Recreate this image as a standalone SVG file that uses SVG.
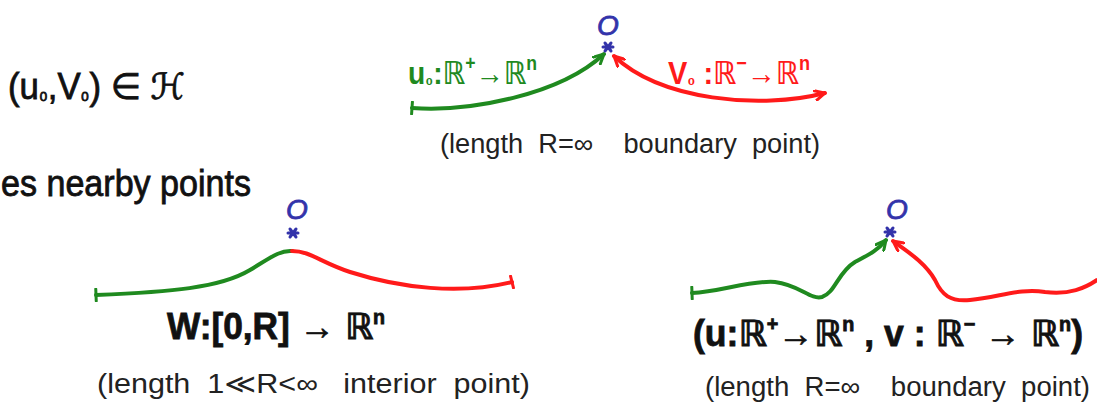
<svg xmlns="http://www.w3.org/2000/svg" width="1097" height="406" viewBox="0 0 1097 406">
<style>
text{white-space:pre;}
.hand{font-family:"Liberation Sans","DejaVu Sans",sans-serif;}
.big{font-size:36px;fill:#111;stroke:#111;stroke-width:0.8;}
.bold{font-weight:bold;}
.cap{font-size:27px;fill:#222;}
.g{stroke:#1f8a1f;}
.r{stroke:#ff1a1a;}
.curve{fill:none;stroke-width:4;stroke-linecap:round;stroke-linejoin:round;}
.o{font-family:"Liberation Sans",sans-serif;font-style:italic;font-size:28px;fill:#3333aa;stroke:#3333aa;stroke-width:0.8;}
.star{stroke:#3333aa;stroke-width:3;stroke-linecap:round;}
</style>
<defs>
<marker id="ag" viewBox="0 0 12 12" refX="11" refY="6" markerWidth="12" markerHeight="12" markerUnits="userSpaceOnUse" orient="auto-start-reverse"><path d="M1,1 L11,6 L1,11" fill="none" stroke="#1f8a1f" stroke-width="3" stroke-linecap="round"/></marker>
<marker id="ar" viewBox="0 0 12 12" refX="11" refY="6" markerWidth="12" markerHeight="12" markerUnits="userSpaceOnUse" orient="auto-start-reverse"><path d="M1,1 L11,6 L1,11" fill="none" stroke="#ff1a1a" stroke-width="3" stroke-linecap="round"/></marker>
<marker id="tg" viewBox="0 0 4 14" refX="2" refY="7" markerWidth="4" markerHeight="14" markerUnits="userSpaceOnUse" orient="auto"><path d="M2,1 L2,13" stroke="#1f8a1f" stroke-width="3" stroke-linecap="round"/></marker>
<marker id="tr" viewBox="0 0 4 14" refX="2" refY="7" markerWidth="4" markerHeight="14" markerUnits="userSpaceOnUse" orient="auto"><path d="M2,1 L2,13" stroke="#ff1a1a" stroke-width="3" stroke-linecap="round"/></marker>
<g id="star"><path class="star" d="M-5,0 L5,0 M-3,-4 L3,4 M3,-4 L-3,4"/></g>
</defs>

<g id="heading" class="hand">
<text class="big" x="8" y="99" textLength="177" lengthAdjust="spacingAndGlyphs">(u<tspan font-size="22">₀</tspan>,V<tspan font-size="22">₀</tspan>) ∈ ℋ</text>
<text class="big" x="1" y="196" textLength="250" lengthAdjust="spacingAndGlyphs">es nearby points</text>
</g>

<g id="connectors">
<path class="curve g" d="M412,108 C470,112 560,95 604,54" marker-start="url(#tg)" marker-end="url(#ag)"/>
<path class="curve r" d="M614,56 C660,100 760,110 825,93" marker-start="url(#ar)" marker-end="url(#ar)"/>
<path class="curve g" d="M96,295 C170,292 220,288 250,270 C270,258 280,250 292,251" marker-start="url(#tg)"/>
<path class="curve r" d="M292,251 C310,251 320,262 350,272 C400,288 460,295 512,282" marker-end="url(#tr)"/>
<path class="curve g" d="M692,293 C720,292 750,280 775,282 C800,285 810,300 822,297 C835,293 838,272 855,262 C870,254 878,250 886,240" marker-start="url(#tg)" marker-end="url(#ag)"/>
<path class="curve r" d="M893,241 C905,250 925,262 935,280 C942,295 950,302 970,300 C1000,297 1020,288 1045,292 C1070,295 1085,288 1097,280" marker-start="url(#ar)"/>
</g>

<g id="top">
<text class="o" x="597" y="35">O</text>
<use href="#star" x="608" y="47"/>
<text class="hand bold" x="408" y="84" font-size="32" fill="#1f8a1f" textLength="129" lengthAdjust="spacingAndGlyphs">u<tspan font-size="20">₀</tspan>:ℝ<tspan font-size="20" dy="-14">+</tspan><tspan dy="14">→ℝ</tspan><tspan font-size="20" dy="-14">n</tspan></text>
<text class="hand bold" x="668" y="84" font-size="32" fill="#ff1a1a" textLength="142" lengthAdjust="spacingAndGlyphs">V<tspan font-size="20">₀</tspan> :ℝ<tspan font-size="20" dy="-14">−</tspan><tspan dy="14">→ℝ</tspan><tspan font-size="20" dy="-14">n</tspan></text>
<text class="hand cap" x="440" y="153" textLength="380" lengthAdjust="spacingAndGlyphs">(length  R=∞    boundary  point)</text>
</g>

<g id="interior">
<text class="o" x="286" y="219">O</text>
<use href="#star" x="293" y="233"/>
<text class="hand big bold" x="167" y="339" font-size="32" textLength="218" lengthAdjust="spacingAndGlyphs">W:[0,R] → ℝ<tspan font-size="20" dy="-15">n</tspan></text>
<text class="hand cap" x="97" y="393" textLength="433" lengthAdjust="spacingAndGlyphs">(length  1≪R&lt;∞   interior  point)</text>
</g>

<g id="boundary">
<text class="o" x="886" y="219">O</text>
<use href="#star" x="890" y="232"/>
<text class="hand big bold" x="693" y="346" font-size="34" textLength="390" lengthAdjust="spacingAndGlyphs">(u:ℝ<tspan font-size="20" dy="-15">+</tspan><tspan dy="15">→ℝ</tspan><tspan font-size="20" dy="-15">n</tspan><tspan dy="15"> , v : ℝ</tspan><tspan font-size="20" dy="-15">−</tspan><tspan dy="15"> → ℝ</tspan><tspan font-size="20" dy="-15">n</tspan><tspan dy="15">)</tspan></text>
<text class="hand cap" x="705" y="396" textLength="385" lengthAdjust="spacingAndGlyphs">(length  R=∞    boundary  point)</text>
</g>
</svg>
